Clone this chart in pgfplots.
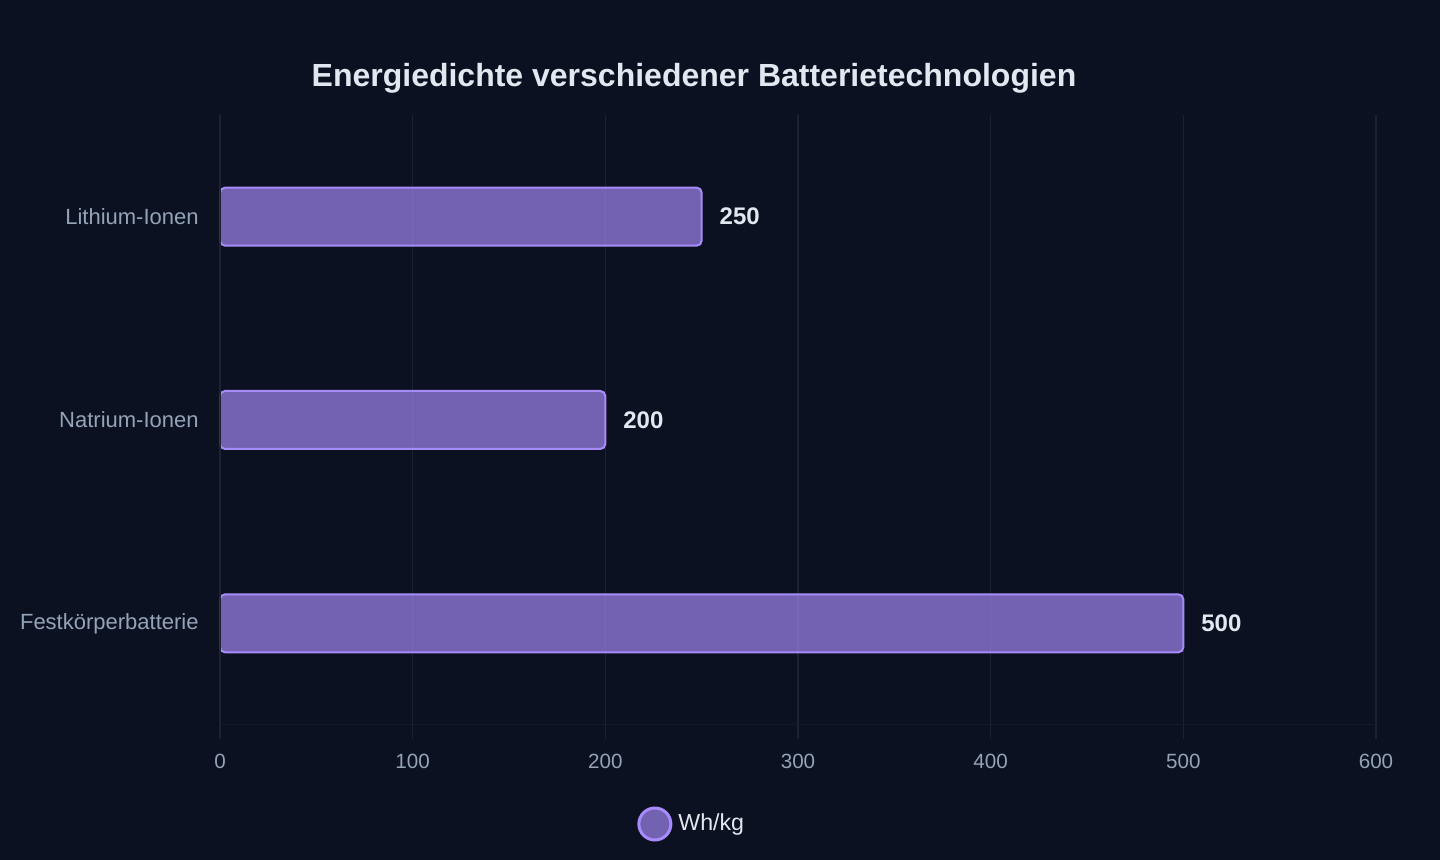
\documentclass[border=0pt]{standalone}
\usepackage{pgfplots}
\pgfplotsset{compat=1.18}
\usepackage{fontspec}
\setmainfont{Liberation Sans}
\definecolor{bg}{HTML}{0B1120}
\definecolor{violetc}{HTML}{A78BFA}
\definecolor{gridc}{HTML}{1B2232}
\definecolor{axisc}{HTML}{121A2A}
\definecolor{tickc}{HTML}{94A3B8}
\definecolor{titlec}{HTML}{E2E8F0}
\begin{document}
\begin{tikzpicture}
\fill[bg] (0,0) rectangle (720pt,430pt);
\path[use as bounding box] (0,0) rectangle (720pt,430pt);
\node[font=\bfseries\fontsize{16}{19}\selectfont, text=titlec] at (347pt,391pt) {Energiedichte verschiedener Batterietechnologien};
\begin{axis}[
  at={(110pt,67.5pt)}, anchor=south west,
  scale only axis, width=578pt, height=305pt,
  xmin=0, xmax=600, ymin=-0.5, ymax=2.5, y dir=reverse,
  xbar, bar width=29pt,
  ytick={0,1,2},
  yticklabels={Lithium-Ionen,Natrium-Ionen,Festkörperbatterie},
  xtick={0,100,...,600},
  xmajorgrids, major grid style={gridc, line width=0.75pt},
  axis x line*=bottom, axis y line*=left,
  x axis line style={axisc, line width=0.5pt, -},
  y axis line style={draw=none},
  tick align=outside, major tick length=7pt,
  xtick style={gridc, line width=0.75pt},
  ytick style={draw=none},
  /pgf/number format/assume math mode=true,
  xticklabel style={text=tickc, font=\fontsize{10.3}{12}\selectfont, yshift=-4pt},
  yticklabel style={text=tickc, font=\fontsize{11}{13}\selectfont, inner sep=0pt, xshift=-3.5pt},
  point meta=x,
  nodes near coords,
  nodes near coords style={anchor=west, inner sep=0pt, xshift=8.5pt, font=\bfseries\fontsize{12}{14}\selectfont, text=titlec, fill opacity=1, text opacity=1},
  legend image code/.code={\draw[fill=violetc, fill opacity=0.67, draw=violetc, line width=1.5pt] (0pt,0pt) circle (8pt);},
  legend style={at={(axis description cs:0.3607,-0.1623)}, anchor=west, draw=none, fill=none, inner sep=0pt, column sep=3pt, text=titlec, font=\fontsize{11.6}{13}\selectfont, nodes={inner sep=0pt}},
]
\addplot[fill=violetc, fill opacity=0.67, draw=violetc, line width=1pt, rounded corners=2.5pt]
  coordinates {(250,0) (200,1) (500,2)};
\addlegendentry{Wh/kg}
\draw[gridc, line width=1pt] (axis cs:0,-0.5) -- (axis cs:0,2.5);
\end{axis}
\end{tikzpicture}
\end{document}
